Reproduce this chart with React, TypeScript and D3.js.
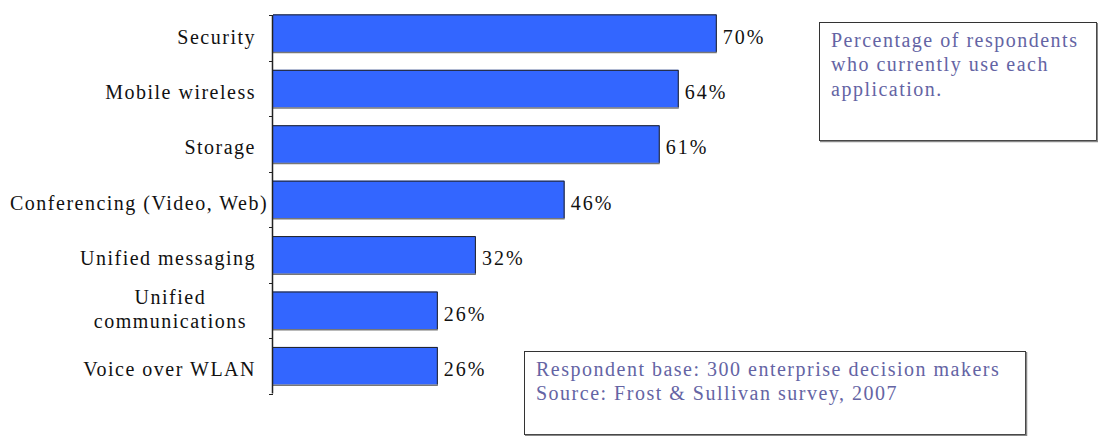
import React, { useEffect, useRef } from "react";
import * as d3 from "d3";

const categories: string[][] = [
  ["Security"],
  ["Mobile wireless"],
  ["Storage"],
  ["Conferencing (Video, Web)"],
  ["Unified messaging"],
  ["Unified", "communications"],
  ["Voice over WLAN"],
];
const values: number[] = [70, 64, 61, 46, 32, 26, 26];
const valueLabels: string[] = ["70%", "64%", "61%", "46%", "32%", "26%", "26%"];
const noteLines: string[] = [
  "Percentage of respondents",
  "who currently use each",
  "application.",
];
const sourceLines: string[] = [
  "Respondent base: 300 enterprise decision makers",
  "Source: Frost & Sullivan survey, 2007",
];

const W = 1098;
const H = 436;
const FONT = "'Liberation Serif', 'Times New Roman', serif";

export default function App() {
  const ref = useRef<SVGSVGElement | null>(null);

  useEffect(() => {
    const svg = d3.select(ref.current);
    svg.selectAll("*").remove();

    const axisX = 273;
    const y = d3
      .scaleBand<number>()
      .domain(d3.range(categories.length))
      .range([5.5, 393.5])
      .paddingInner(0.32)
      .paddingOuter(0.16);
    const x = d3.scaleLinear().domain([0, 100]).range([axisX, axisX + 634]);

    const g = svg.append("g");

    // bars
    values.forEach((v, i) => {
      const y0 = y(i)!;
      const bh = y.bandwidth();
      const x1 = x(v);
      g.append("rect")
        .attr("x", axisX)
        .attr("y", y0)
        .attr("width", x1 - axisX)
        .attr("height", bh)
        .attr("fill", "#3366FF");
      g.append("path")
        .attr("d", `M${axisX},${y0 + 0.5}H${x1 - 0.5}V${y0 + bh}`)
        .attr("fill", "none")
        .attr("stroke", "#222")
        .attr("stroke-width", 1);
      g.append("line")
        .attr("x1", axisX)
        .attr("x2", x1)
        .attr("y1", y0 + bh + 0.5)
        .attr("y2", y0 + bh + 0.5)
        .attr("stroke", "#777")
        .attr("stroke-width", 1.5);
      g.append("text")
        .attr("x", x1 + 6)
        .attr("y", y0 + bh / 2)
        .attr("dy", "0.52em")
        .attr("font-family", FONT)
        .attr("font-size", 20)
        .attr("letter-spacing", 2)
        .attr("fill", "#111")
        .text(valueLabels[i]);
    });

    // axis
    const step = y.step();
    const top = 15;
    const bottom = 393.5;
    const boundaries = d3
      .range(categories.length + 1)
      .map((k) => 5.5 + k * step)
      .filter((b) => b >= top);
    g.append("line")
      .attr("x1", axisX - 0.5)
      .attr("x2", axisX - 0.5)
      .attr("y1", top)
      .attr("y2", bottom)
      .attr("stroke", "#222")
      .attr("stroke-width", 1.5);
    [top, ...boundaries].forEach((b) => {
      g.append("line")
        .attr("x1", axisX - 4)
        .attr("x2", axisX)
        .attr("y1", Math.round(b) + 0.5)
        .attr("y2", Math.round(b) + 0.5)
        .attr("stroke", "#222")
        .attr("stroke-width", 1);
    });

    // category labels
    const labelRight = 256;
    const leftLimit = 10;
    categories.forEach((lines, i) => {
      const cy = y(i)! + y.bandwidth() / 2;
      const lh = 24;
      const t = g
        .append("text")
        .attr("font-family", FONT)
        .attr("font-size", 20)
        .attr("letter-spacing", 1.5)
        .attr("fill", "#111");
      const spans = lines.map((ln, k) =>
        t
          .append("tspan")
          .attr("y", cy + (k - (lines.length - 1) / 2) * lh)
          .attr("dy", lines.length === 1 ? "0.52em" : "0.3em")
          .text(ln)
      );
      const widths = spans.map((s) => (s.node() as SVGTextContentElement).getComputedTextLength());
      const maxW = d3.max(widths) || 0;
      if (lines.length === 1) {
        t.attr("text-anchor", "end");
        spans[0].attr("x", Math.max(labelRight, leftLimit + maxW));
      } else {
        t.attr("text-anchor", "middle");
        spans.forEach((s) => s.attr("x", labelRight - 9 - maxW / 2));
      }
    });

    // note boxes
    const drawBox = (bx: number, by: number, bw: number, bh: number, lines: string[]) => {
      const bg = svg.append("g");
      bg.append("rect")
        .attr("x", bx + 0.5)
        .attr("y", by + 0.5)
        .attr("width", bw)
        .attr("height", bh)
        .attr("fill", "#fff")
        .attr("stroke", "#333")
        .attr("stroke-width", 1);
      bg.append("path")
        .attr("d", `M${bx + 1},${by + bh + 1.5}H${bx + bw + 1.5}V${by + 1}`)
        .attr("fill", "none")
        .attr("stroke", "#888")
        .attr("stroke-width", 1.5);
      lines.forEach((ln, k) => {
        bg.append("text")
          .attr("x", bx + 12)
          .attr("y", by + 24.5 + k * 24.7)
          .attr("font-family", FONT)
          .attr("font-size", 20)
          .attr("letter-spacing", 1.5)
          .attr("fill", "#6464A4")
          .text(ln);
      });
    };
    drawBox(819, 22, 277, 118, noteLines);
    drawBox(524, 351, 501, 83, sourceLines);
  }, []);

  return (
    <svg
      ref={ref}
      width={W}
      height={H}
      style={{ position: "absolute", left: 0, top: 0, background: "#fff" }}
    />
  );
}
